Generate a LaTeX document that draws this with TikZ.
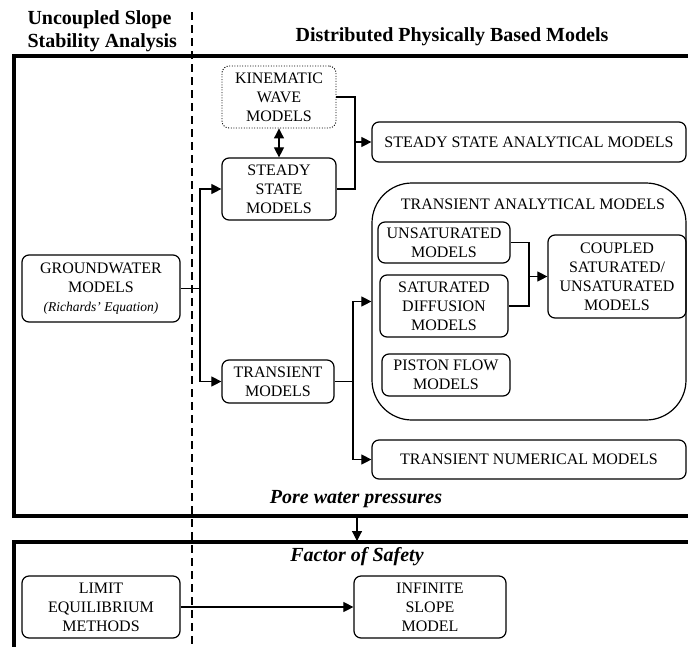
\documentclass[tikz,border=0pt]{standalone}
\usepackage{fontspec}
\setmainfont{Liberation Serif}
\usepackage{tikz}
\usetikzlibrary{positioning,arrows.meta}

\begin{document}
\begin{tikzpicture}[x=1pt, y=-1pt,
    box/.style={rectangle, draw, rounded corners=7pt, line width=1.2pt, align=center,
      inner sep=1pt, font=\fontsize{16}{19}\selectfont},
    dotbox/.style={box, line width=0.9pt, dash pattern=on 1pt off 1.6pt},
    frame/.style={line width=4pt},
    line/.style={line width=1.1pt},
    arrow/.style={line, -{Triangle[length=10pt,width=10pt]}},
    title/.style={font=\fontsize{20}{23}\selectfont\bfseries},
    note/.style={font=\fontsize{20}{23}\selectfont\bfseries\itshape}]
    \useasboundingbox (0,0) rectangle (688,646);
    \clip (0,0) rectangle (688,646);

    % headings and column divider
    \node[title, align=left, anchor=west] (uncoupled) at (24,31) {Uncoupled Slope\\Stability Analysis};
    \node[title] (distributed) at (452,37) {Distributed Physically Based Models};
    \draw[line, dash pattern=on 8pt off 5pt] (192,12) -- (192,650);

    % outer frames
    \draw[frame] (700,56) -- (14,56) -- (14,516) -- (700,516);
    \draw[frame] (700,542) -- (14,542) -- (14,660);

    % hydrology models
    \node[box, minimum width=158pt, minimum height=67pt] (gw) at (101,288.5)
      {GROUNDWATER\\MODELS\\{\fontsize{13.5}{16}\selectfont\itshape (Richards' Equation)}};
    \node[box, minimum width=114pt, minimum height=62pt] (ss) at (279,189) {STEADY\\STATE\\MODELS};
    \node[dotbox, minimum width=114pt, minimum height=62pt, above of=ss, node distance=92pt] (kw) {KINEMATIC\\WAVE\\MODELS};
    \node[box, minimum width=112pt, minimum height=43pt] (tr) at (278,381.5) {TRANSIENT\\MODELS};
    \node[box, minimum width=314pt, minimum height=40pt] (ssa) at (529,142) {STEADY STATE ANALYTICAL MODELS};

    % transient analytical group
    \node[box, rounded corners=40pt, minimum width=314pt, minimum height=237pt] (ta) at (529,301.5) {};
    \node[font=\fontsize{16}{19}\selectfont] (tatitle) at (533,204) {TRANSIENT ANALYTICAL MODELS};
    \node[box, minimum width=132pt, minimum height=41pt] (uns) at (444,242.5) {UNSATURATED\\MODELS};
    \node[box, minimum width=128pt, minimum height=62pt] (sd) at (444,306) {SATURATED\\DIFFUSION\\MODELS};
    \node[box, minimum width=128pt, minimum height=42pt] (pf) at (446,375) {PISTON FLOW\\MODELS};
    \node[box, minimum width=138pt, minimum height=83pt] (cp) at (617,276.5) {COUPLED\\SATURATED/\\UNSATURATED\\MODELS};
    \node[box, minimum width=314pt, minimum height=39pt] (tnm) at (529,459.5) {TRANSIENT NUMERICAL MODELS};

    % stability models
    \node[box, minimum width=158pt, minimum height=62pt] (le) at (101,607) {LIMIT\\EQUILIBRIUM\\METHODS};
    \node[box, minimum width=152pt, minimum height=62pt] (is) at (430,607) {INFINITE\\SLOPE\\MODEL};

    \node[note] (pwp) at (356,499) {Pore water pressures};
    \node[note] (fos) at (357,557) {Factor of Safety};

    % connectors
    \coordinate (gwfork) at (200,288.5);
    \coordinate (ssfork) at (355,142);
    \coordinate (trfork) at (353,381.5);
    \coordinate (cpfork) at (529,276.5);
    \coordinate (upper) at (357,516);
    \coordinate (lower) at (357,541);

    \draw[line] (gw.east) -- (gwfork);
    \draw[arrow] (gwfork) |- (ss.west);
    \draw[arrow] (gwfork) |- (tr.west);
    \draw[arrow, {Triangle[length=10pt,width=10pt]}-{Triangle[length=10pt,width=10pt]}] (kw.south) -- (ss.north);
    \draw[line] (kw.east) -| (ssfork) |- (ss.east);
    \draw[arrow] (ssfork) -- (ssa.west);
    \draw[line] (tr.east) -- (trfork);
    \draw[arrow] (trfork) |- (ta.west);
    \draw[arrow] (trfork) |- (tnm.west);
    \draw[line] (uns.east) -| (cpfork) |- (sd.east);
    \draw[arrow] (cpfork) -- (cp.west);
    \draw[arrow] (upper) -- (lower);
    \draw[arrow] (le.east) -- (is.west);
\end{tikzpicture}
\end{document}
